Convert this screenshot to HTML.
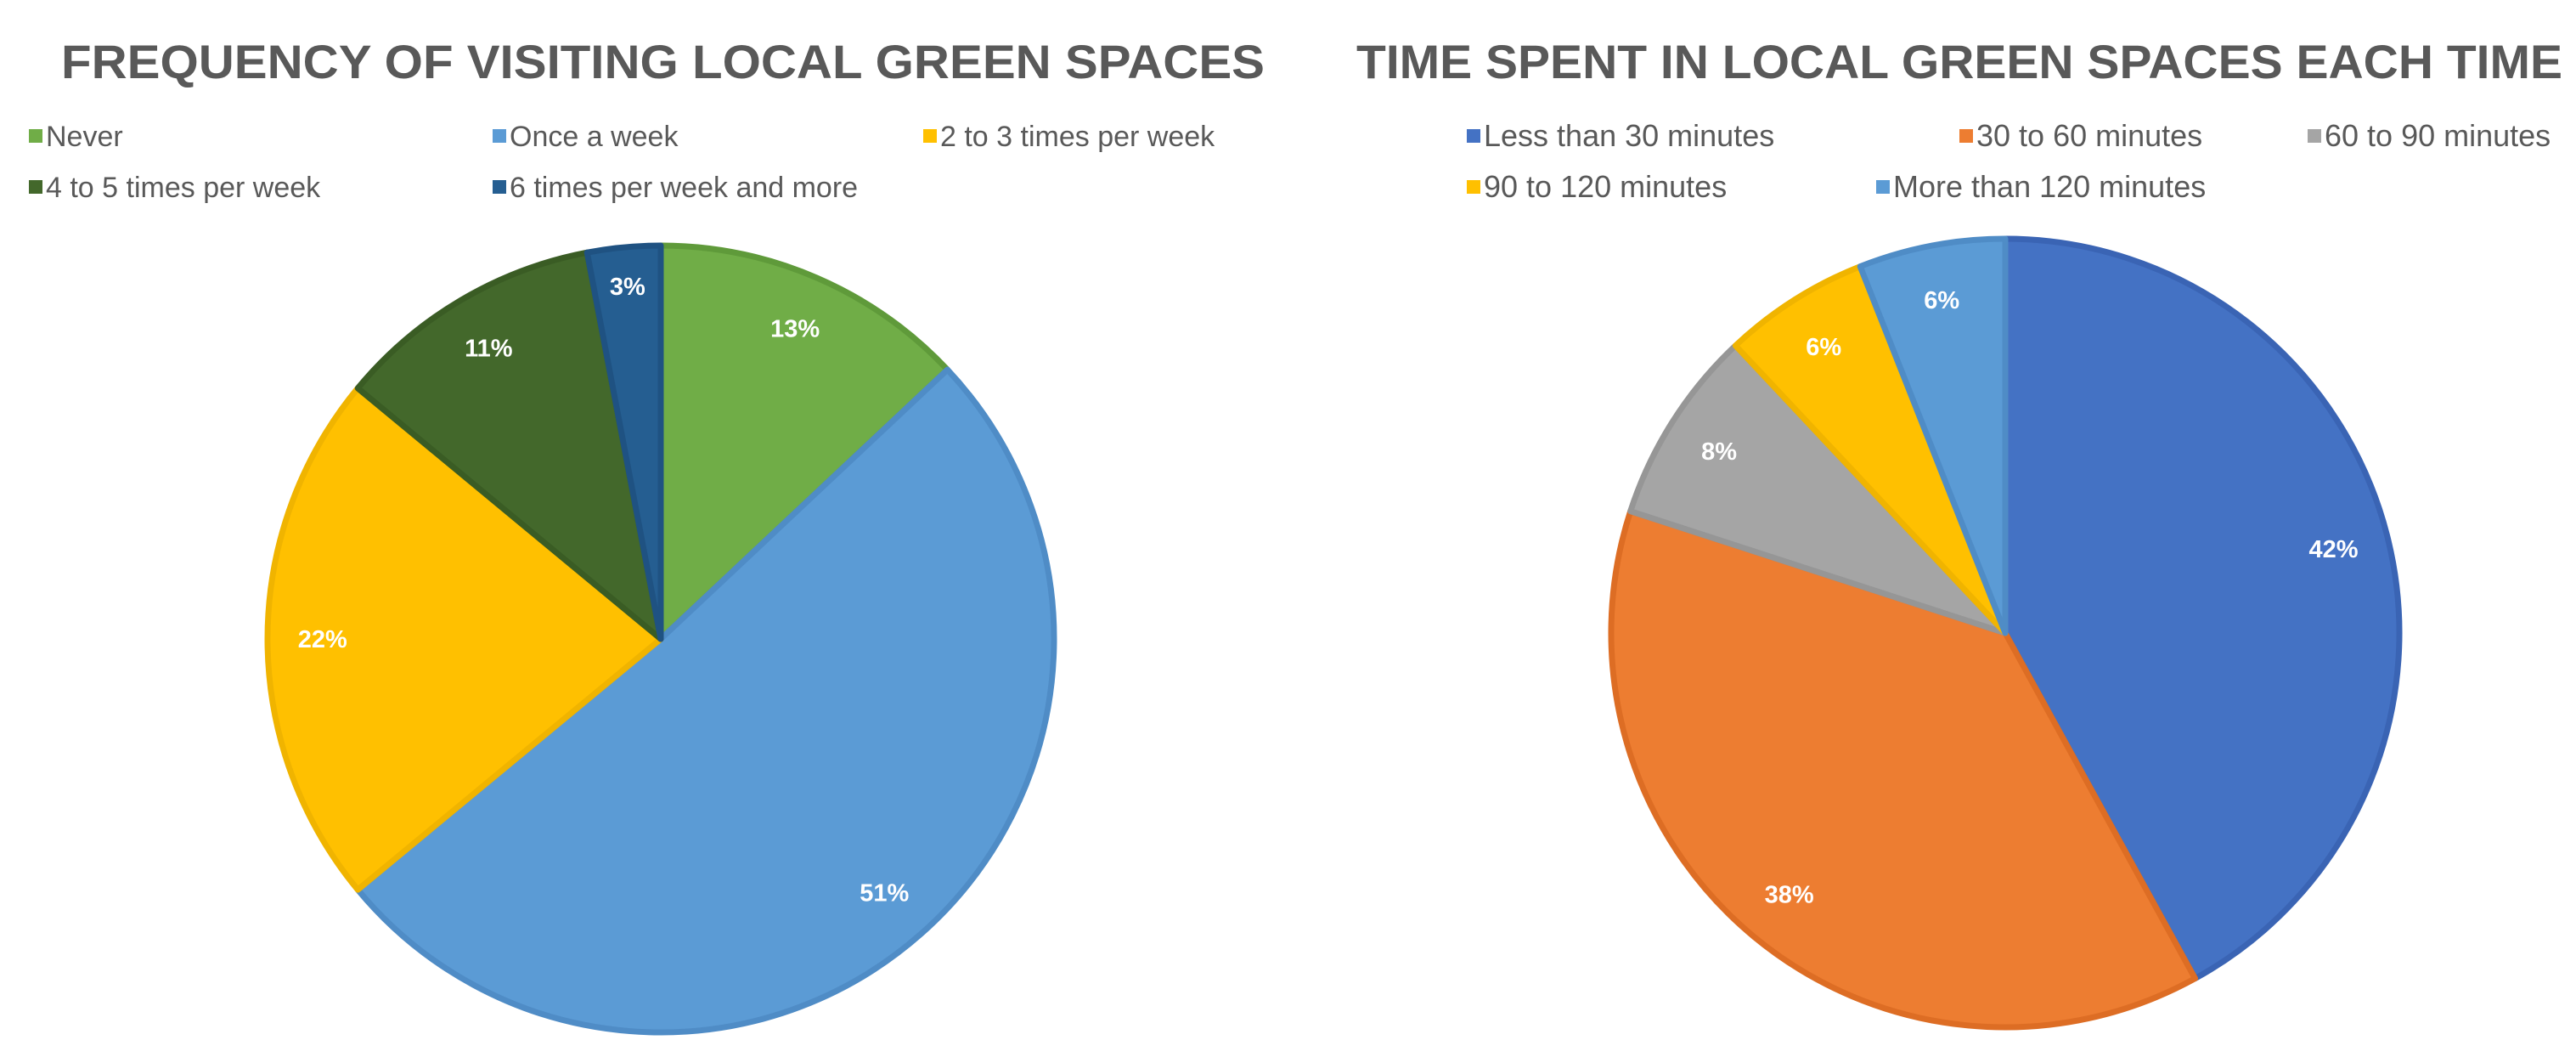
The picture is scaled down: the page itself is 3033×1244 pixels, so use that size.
<!DOCTYPE html>
<html><head><meta charset="utf-8"><style>
html,body{margin:0;padding:0;background:#fff;}
svg{display:block;font-family:"Liberation Sans",sans-serif;}
</style></head><body>
<svg id="chart" width="3033" height="1244" viewBox="0 0 3033 1244" xmlns="http://www.w3.org/2000/svg">
<rect width="3033" height="1244" fill="#fff"/>
<text x="72" y="92" textLength="1417" lengthAdjust="spacingAndGlyphs" font-size="56" font-weight="bold" fill="#595959">FREQUENCY OF VISITING LOCAL GREEN SPACES</text>
<text x="1597" y="92" textLength="1420" lengthAdjust="spacingAndGlyphs" font-size="56" font-weight="bold" fill="#595959">TIME SPENT IN LOCAL GREEN SPACES EACH TIME</text>
<g id="left-legend"></g>
<g id="right-legend"></g>
<g id="left-pie"></g>
<g id="right-pie"></g>
</svg>
<script>
const leftCategories = ["Never","Once a week","2 to 3 times per week","4 to 5 times per week","6 times per week and more"];
const leftValues = [13,51,22,11,3];
const leftLabels = ["13%","51%","22%","11%","3%"];
const rightCategories = ["Less than 30 minutes","30 to 60 minutes","60 to 90 minutes","90 to 120 minutes","More than 120 minutes"];
const rightValues = [42,38,8,6,6];
const rightLabels = ["42%","38%","8%","6%","6%"];

const NS="http://www.w3.org/2000/svg";
const leftFill=["#70AD47","#5B9BD5","#FFC000","#43682B","#255E91"];
const leftStroke=["#5f9a3a","#4f8cc6","#f0b400","#3a5c24","#1f5282"];
const rightFill=["#4472C4","#ED7D31","#A5A5A5","#FFC000","#5B9BD5"];
const rightStroke=["#3a64b4","#dd6d24","#969696","#f0b400","#4f8cc6"];

function mk(tag,attrs){const e=document.createElementNS(NS,tag);for(const k in attrs)e.setAttribute(k,attrs[k]);return e;}

function drawPie(gid,values,labels,fills,strokes,cx,cy,r,names){
  const g=document.getElementById(gid);
  const total=values.reduce((a,b)=>a+b,0);
  let a0=0;
  values.forEach((v,i)=>{
    const a1=a0+v/total*Math.PI*2;
    const x0=cx+r*Math.sin(a0),y0=cy-r*Math.cos(a0);
    const x1=cx+r*Math.sin(a1),y1=cy-r*Math.cos(a1);
    const large=(a1-a0)>Math.PI?1:0;
    const p=mk('path',{d:`M${cx},${cy} L${x0},${y0} A${r},${r} 0 ${large} 1 ${x1},${y1} Z`,fill:fills[i],stroke:strokes[i],'stroke-width':7,'stroke-linejoin':'round'});
    
    
    g.appendChild(p);
    a0=a1;
  });
  a0=0;
  values.forEach((v,i)=>{
    const am=a0+v/total*Math.PI;
    a0+=v/total*Math.PI*2;
    const lr=r*(v<5?0.9:0.86);
    const t=mk('text',{x:cx+lr*Math.sin(am),y:cy-lr*Math.cos(am)+10,'text-anchor':'middle','font-size':29,'font-weight':'bold',fill:'#fff'});
    
    
    t.textContent=labels[i];
    g.appendChild(t);
  });
}

function drawLegend(gid,cats,fills,pos,fs){
  const g=document.getElementById(gid);
  cats.forEach((c,i)=>{
    const [x,y]=pos[i];
    const s=mk('rect',{x:x,y:y-13,width:16,height:16,fill:fills[i]});
    
    
    g.appendChild(s);
    const t=mk('text',{x:x+20,y:y+7,'font-size':fs,fill:'#595959'});
    
    
    t.textContent=c;
    g.appendChild(t);
  });
}

drawLegend('left-legend',leftCategories,leftFill,[[34,165],[580,165],[1087,165],[34,225],[580,225]],34);
drawLegend('right-legend',rightCategories,rightFill,[[1727,165],[2307,165],[2717,165],[1727,225],[2209,225]],36);
drawPie('left-pie',leftValues,leftLabels,leftFill,leftStroke,778,752,463,leftCategories);
drawPie('right-pie',rightValues,rightLabels,rightFill,rightStroke,2361,745,464,rightCategories);
</script>
</body></html>
